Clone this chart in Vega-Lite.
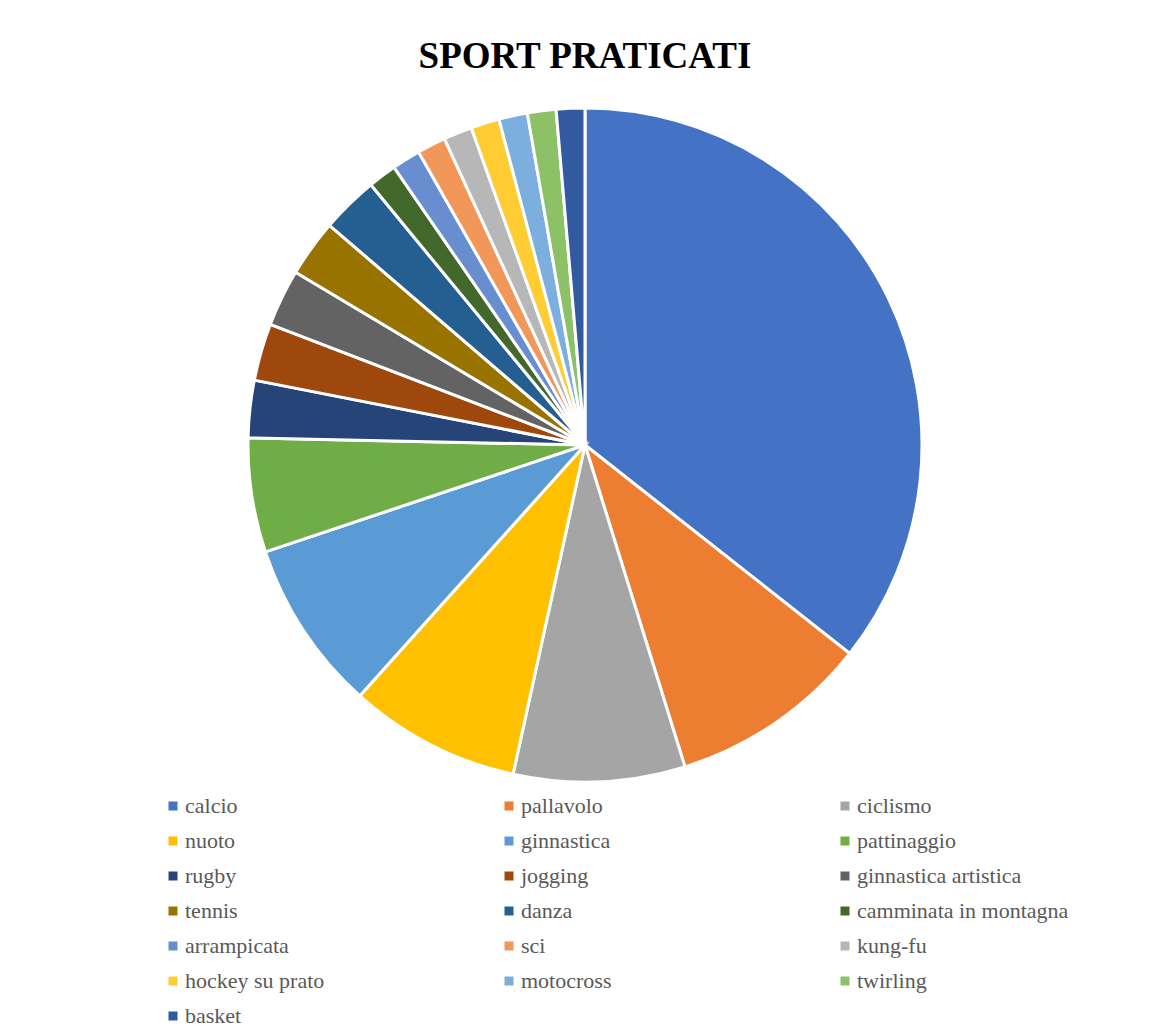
{
  "$schema": "https://vega.github.io/schema/vega-lite/v6.json",
  "autosize": {"type": "none"},
  "width": 1130,
  "height": 690,
  "padding": {"left": 20, "top": 100, "right": 1, "bottom": 242},
  "background": "white",
  "config": {"view": {"stroke": null}},
  "title": {
    "text": "SPORT PRATICATI",
    "font": "Liberation Serif",
    "fontSize": 37,
    "fontWeight": "bold",
    "color": "black",
    "anchor": "middle",
    "offset": 24
  },
  "data": {
    "values": [
      {"idx": 1, "sport": "calcio", "n": 26},
      {"idx": 2, "sport": "pallavolo", "n": 7},
      {"idx": 3, "sport": "ciclismo", "n": 6},
      {"idx": 4, "sport": "nuoto", "n": 6},
      {"idx": 5, "sport": "ginnastica", "n": 6},
      {"idx": 6, "sport": "pattinaggio", "n": 4},
      {"idx": 7, "sport": "rugby", "n": 2},
      {"idx": 8, "sport": "jogging", "n": 2},
      {"idx": 9, "sport": "ginnastica artistica", "n": 2},
      {"idx": 10, "sport": "tennis", "n": 2},
      {"idx": 11, "sport": "danza", "n": 2},
      {"idx": 12, "sport": "camminata in montagna", "n": 1},
      {"idx": 13, "sport": "arrampicata", "n": 1},
      {"idx": 14, "sport": "sci", "n": 1},
      {"idx": 15, "sport": "kung-fu", "n": 1},
      {"idx": 16, "sport": "hockey su prato", "n": 1},
      {"idx": 17, "sport": "motocross", "n": 1},
      {"idx": 18, "sport": "twirling", "n": 1},
      {"idx": 19, "sport": "basket", "n": 1}
    ]
  },
  "mark": {"type": "arc", "radius": 337, "stroke": "white", "strokeWidth": 3},
  "encoding": {
    "theta": {"field": "n", "type": "quantitative", "stack": true},
    "order": {"field": "idx", "type": "quantitative"},
    "color": {
      "field": "sport",
      "type": "nominal",
      "sort": null,
      "scale": {
        "domain": ["calcio", "pallavolo", "ciclismo", "nuoto", "ginnastica", "pattinaggio", "rugby", "jogging", "ginnastica artistica", "tennis", "danza", "camminata in montagna", "arrampicata", "sci", "kung-fu", "hockey su prato", "motocross", "twirling", "basket"],
        "range": ["#4472C4", "#ED7D31", "#A5A5A5", "#FFC000", "#5B9BD5", "#70AD47", "#264478", "#9E480E", "#636363", "#997300", "#255E91", "#43682B", "#698ED0", "#F1975A", "#B7B7B7", "#FFCD33", "#7CAFDD", "#8CC168", "#335AA1"]
      },
      "legend": {
        "orient": "none",
        "direction": "horizontal",
        "legendX": 142,
        "legendY": 695,
        "columns": 3,
        "gridAlign": "all",
        "title": null,
        "padding": 0,
        "symbolType": "square",
        "symbolSize": 81,
        "symbolStrokeWidth": 0,
        "labelFont": "Liberation Serif",
        "labelFontSize": 22,
        "labelColor": "#595959",
        "labelOffset": 1,
        "labelLimit": 400,
        "rowPadding": 13,
        "columnPadding": 101,
        "symbolLimit": 0
      }
    }
  }
}
